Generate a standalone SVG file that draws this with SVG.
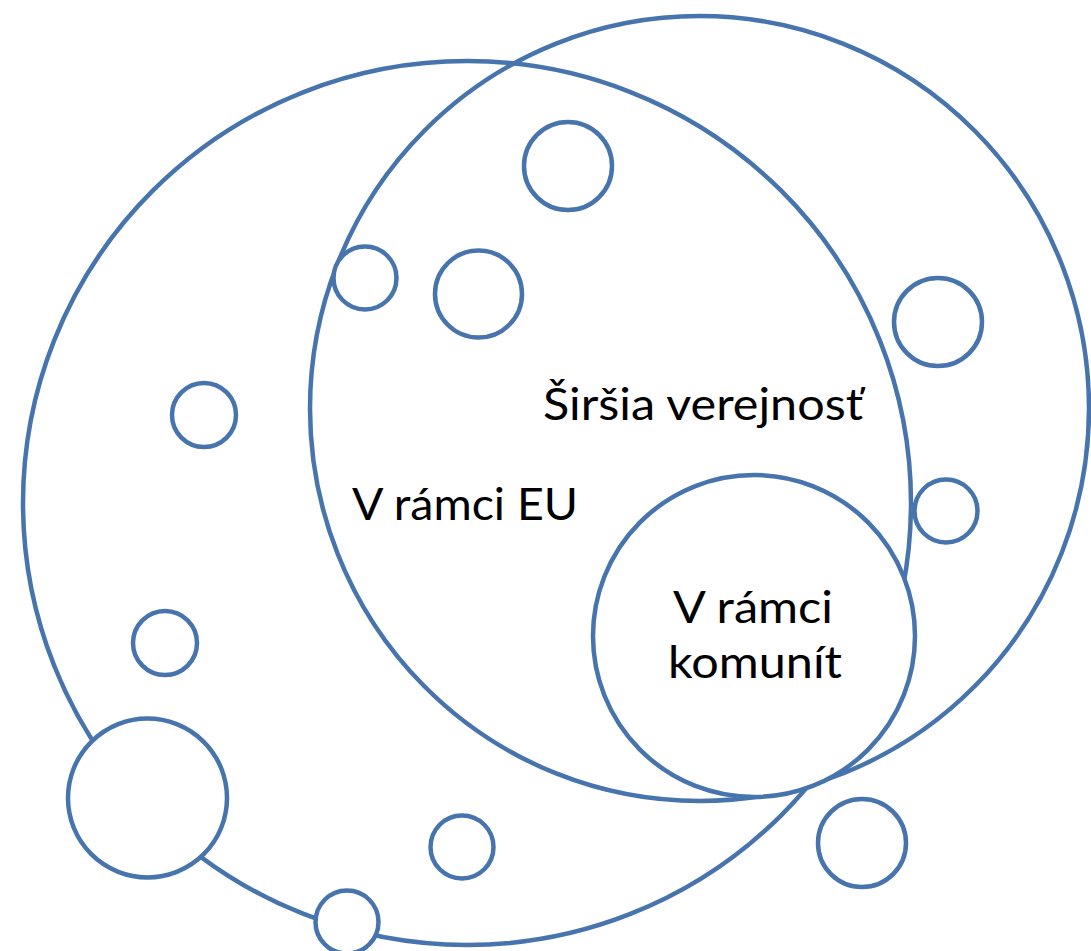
<svg xmlns="http://www.w3.org/2000/svg" width="1091" height="951" viewBox="0 0 1091 951">
<style>
.ring{fill:none;stroke:#4774AD;stroke-width:4.5}
.dot{fill:#ffffff;stroke:#4774AD;stroke-width:4.5}
.lbl{font-family:Lato,"Liberation Sans",sans-serif;font-size:45px;fill:#000000}
</style>
<rect width="1091" height="951" fill="#ffffff"/>
<g id="public">
<ellipse class="ring" cx="467" cy="503" rx="444" ry="442"/>
</g>
<g id="eu">
<ellipse class="ring" cx="699.5" cy="408.5" rx="389.5" ry="392.5"/>
</g>
<g id="komunity">
<circle class="dot" cx="754" cy="636" r="161"/>
</g>
<g id="dots">
<circle id="d1" class="dot" cx="568" cy="166" r="44"/>
<circle id="d2" class="dot" cx="365" cy="278" r="31.5"/>
<circle id="d3" class="dot" cx="478.5" cy="294" r="43.5"/>
<circle id="d4" class="dot" cx="204" cy="415" r="32"/>
<circle id="d5" class="dot" cx="938" cy="322" r="44"/>
<circle id="d6" class="dot" cx="946" cy="511" r="31.5"/>
<circle id="d7" class="dot" cx="165" cy="643" r="32"/>
<circle id="d8" class="dot" cx="147.5" cy="798" r="79.5"/>
<circle id="d9" class="dot" cx="462" cy="847" r="31.5"/>
<circle id="d10" class="dot" cx="862" cy="843" r="44"/>
<circle id="d11" class="dot" cx="347" cy="922" r="31.5"/>
</g>
<g id="labels">
<text class="lbl" x="543" y="420" textLength="320" lengthAdjust="spacingAndGlyphs">Širšia verejnosť</text>
<text class="lbl" x="352" y="520" textLength="226" lengthAdjust="spacingAndGlyphs">V rámci EU</text>
<text class="lbl" x="673" y="623" textLength="160" lengthAdjust="spacingAndGlyphs">V rámci</text>
<text class="lbl" x="668" y="678" textLength="174" lengthAdjust="spacingAndGlyphs">komunít</text>
</g>
</svg>
